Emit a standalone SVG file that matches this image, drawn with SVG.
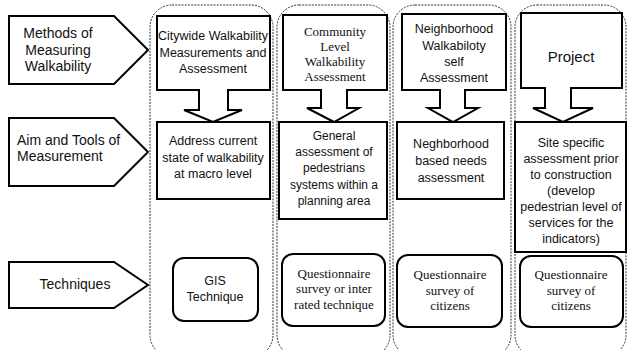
<svg xmlns="http://www.w3.org/2000/svg" width="629" height="350" viewBox="0 0 629 350">
<style>
.bg{fill:#fff}
.col{fill:none;stroke:#333;stroke-width:1;stroke-dasharray:2 1.2}
.box{fill:#fff;stroke:#000;stroke-width:2}
.sans{font-family:"Liberation Sans",Arial,sans-serif;font-size:12.5px;fill:#111;text-anchor:middle}
.lab{font-family:"Liberation Sans",Arial,sans-serif;font-size:14px;fill:#111;text-anchor:middle}
.ser{font-family:"Liberation Serif","Times New Roman",serif;font-size:13px;fill:#111;text-anchor:middle}
</style>
<rect class="bg" x="0" y="0" width="629" height="350"/>
<g id="columns">
<rect class="col" x="150" y="5" width="123" height="352" rx="22"/>
<rect class="col" x="277" y="5" width="113" height="352" rx="22"/>
<rect class="col" x="393" y="5" width="118" height="352" rx="22"/>
<rect class="col" x="515" y="5" width="111" height="352" rx="22"/>
</g>
<g id="label-methods">
<polygon class="box" points="9,16 114,16 148,50 114,84 9,84"/>
<text class="lab" x="58" y="38">Methods of</text>
<text class="lab" x="58" y="55">Measuring</text>
<text class="lab" x="58" y="71">Walkability</text>
</g>
<g id="label-aim">
<polygon class="box" points="9,118 114,118 148,152 114,186 9,186"/>
<text class="lab" x="17" y="145" style="text-anchor:start">Aim and Tools of</text>
<text class="lab" x="17" y="161" style="text-anchor:start">Measurement</text>
</g>
<g id="label-tech">
<polygon class="box" points="9,262 114,262 148,285 114,308 9,308"/>
<text class="lab" x="75" y="289">Techniques</text>
</g>
<g id="method-citywide">
<path class="box" d="M157,16 H270 V90 H228 V110 H242 L213,122 L184,110 H199 V90 H157 Z"/>
<text class="sans" x="213" y="40">Citywide Walkability</text>
<text class="sans" x="213" y="57">Measurements and</text>
<text class="sans" x="213" y="73">Assessment</text>
</g>
<g id="method-community">
<path class="box" d="M283,15 H387 V90 H347 V108 H359 L334,122 L307,108 H321 V90 H283 Z"/>
<text class="ser" x="335" y="36">Community</text>
<text class="ser" x="335" y="51">Level</text>
<text class="ser" x="335" y="66">Walkability</text>
<text class="ser" x="335" y="81">Assessment</text>
</g>
<g id="method-neighborhood">
<path class="box" d="M402,14 H506 V90 H465 V108 H478 L453,122 L428,108 H440 V90 H402 Z"/>
<text class="sans" x="454" y="33">Neighborhood</text>
<text class="sans" x="454" y="49.5">Walkabiloty</text>
<text class="sans" x="454" y="66">self</text>
<text class="sans" x="454" y="82">Assessment</text>
</g>
<g id="method-project">
<path class="box" d="M521,13 H622 V88 H571 V108 H593 L563,122 L533,108 H545 V88 H521 Z"/>
<text class="sans" x="571" y="62" style="font-size:15px">Project</text>
</g>
<g id="aim-citywide">
<rect class="box" x="157" y="122" width="113" height="77"/>
<text class="sans" x="213" y="145">Address current</text>
<text class="sans" x="213" y="162">state of walkability</text>
<text class="sans" x="213" y="178">at macro level</text>
</g>
<g id="aim-community">
<rect class="box" x="279" y="122" width="108" height="97"/>
<text class="sans" x="334" y="140" style="font-size:12px">General</text>
<text class="sans" x="334" y="156" style="font-size:12px">assessment of</text>
<text class="sans" x="334" y="172" style="font-size:12px">pedestrians</text>
<text class="sans" x="334" y="189" style="font-size:12px">systems within a</text>
<text class="sans" x="334" y="205" style="font-size:12px">planning area</text>
</g>
<g id="aim-neighborhood">
<rect class="box" x="397" y="122" width="107" height="77"/>
<text class="sans" x="451" y="148">Neghborhood</text>
<text class="sans" x="451" y="165">based needs</text>
<text class="sans" x="451" y="182">assessment</text>
</g>
<g id="aim-project">
<rect class="box" x="515" y="122" width="111" height="130"/>
<text class="sans" x="571" y="147">Site specific</text>
<text class="sans" x="571" y="163">assessment prior</text>
<text class="sans" x="571" y="179">to construction</text>
<text class="sans" x="571" y="195">(develop</text>
<text class="sans" x="571" y="211">pedestrian level of</text>
<text class="sans" x="571" y="227">services for the</text>
<text class="sans" x="571" y="243">indicators)</text>
</g>
<g id="tech-gis">
<rect class="box" x="173" y="258" width="85" height="63" rx="11"/>
<text class="sans" x="215" y="285">GIS</text>
<text class="sans" x="215" y="301">Technique</text>
</g>
<g id="tech-community">
<rect class="box" x="282" y="254" width="103" height="72" rx="11"/>
<text class="ser" x="334" y="278">Questionnaire</text>
<text class="ser" x="334" y="293">survey or inter</text>
<text class="ser" x="334" y="309">rated technique</text>
</g>
<g id="tech-neighborhood">
<rect class="box" x="397" y="255" width="105" height="72" rx="11"/>
<text class="ser" x="450" y="279">Questionnaire</text>
<text class="ser" x="450" y="294.5">survey of</text>
<text class="ser" x="450" y="310">citizens</text>
</g>
<g id="tech-project">
<rect class="box" x="520" y="256" width="103" height="71" rx="11"/>
<text class="ser" x="571" y="279">Questionnaire</text>
<text class="ser" x="571" y="294.5">survey of</text>
<text class="ser" x="571" y="310">citizens</text>
</g>
<g id="connectors"></g>
</svg>
